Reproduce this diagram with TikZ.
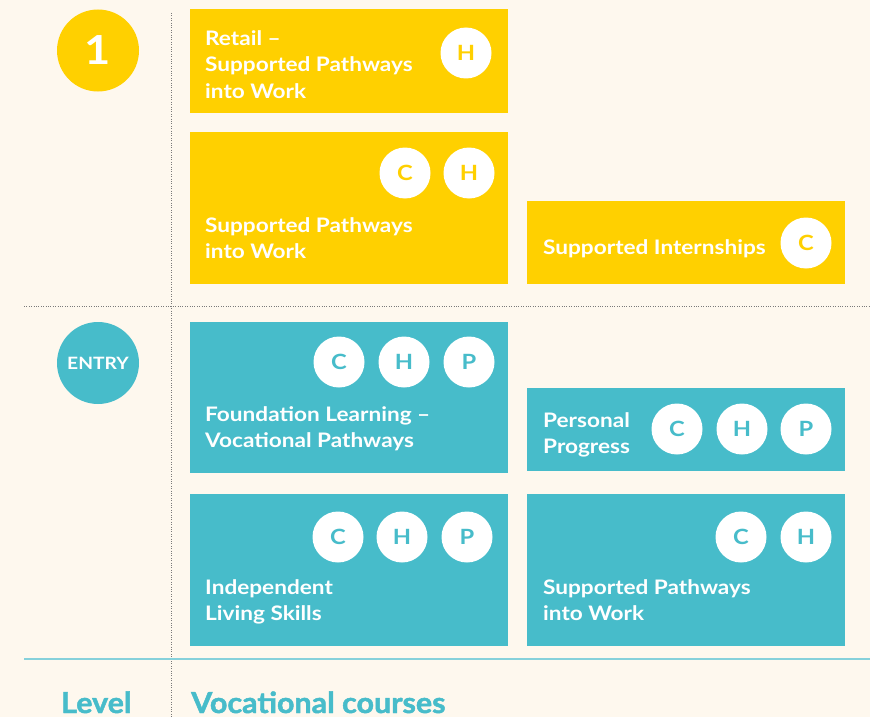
\documentclass[tikz,border=0pt]{standalone}
\usepackage{fontspec}
\setmainfont{Lato}
\newfontfamily\bx{Lato}[FakeStretch=1.13]
\newfontfamily\hd{Lato}[FakeStretch=1.05,BoldFeatures={FakeBold=1.6}]
\definecolor{bg}{HTML}{FEF8EE}
\definecolor{yel}{HTML}{FFD000}
\definecolor{teal1}{HTML}{47BCCA}
\definecolor{lteal}{HTML}{86D1DB}
\definecolor{dotgray}{HTML}{7A7A7A}
\begin{document}
\begin{tikzpicture}[x=1pt,y=-1pt,
 box/.style={draw=none,anchor=north west,inner sep=0,outer sep=0},
 ybox/.style={box,fill=yel},
 tbox/.style={box,fill=teal1},
 badge/.style={circle,fill=white,minimum size=51pt,inner sep=0,font=\bx\bfseries\fontsize{21}{21}\selectfont},
 ybadge/.style={badge,text=yel},
 tbadge/.style={badge,text=teal1},
 lbl/.style={anchor=base west,inner sep=0,text=white,align=left,font=\bx\bfseries\fontsize{20}{26}\selectfont},
 lvl/.style={circle,minimum size=82pt,inner sep=0,text=white},
 head/.style={anchor=base west,inner sep=0,text=teal1,font=\hd\bfseries\fontsize{29}{29}\selectfont},
 grid/.style={dotgray,line width=0.8pt,dash pattern=on 0.8pt off 1.6pt},
]
\fill[bg] (0,0) rectangle (870,717);
\useasboundingbox (0,0) rectangle (870,717);
% grid lines
\coordinate (vtop) at (171,13);
\coordinate (vbot) at (171,717);
\coordinate (hl) at (24,306);
\coordinate (hr) at (870,306);
\coordinate (bl) at (24,659);
\coordinate (br) at (870,659);
\draw[grid] (vtop) -- (vbot);
\draw[grid] (hl) -- (hr);
\draw[lteal,line width=2.5pt] (bl) -- (br);
% level circles
\node[lvl,fill=yel,font=\bx\bfseries\fontsize{40}{40}\selectfont] (one) at (98,50.5) {1};
\node[lvl,fill=teal1,font=\bx\bfseries\fontsize{17}{17}\selectfont] (entry) at (98,363) {ENTRY};
% level 1 boxes
\node[ybox,minimum width=318pt,minimum height=104pt] (A) at (190,9) {};
\node[lbl] (Atxt) at (205,98) {Retail –\\Supported Pathways\\into Work};
\node[ybadge] (AH) at (466,53) {H};
\node[ybox,minimum width=318pt,minimum height=152pt] (B) at (190,132) {};
\node[lbl] (Btxt) at (205,258) {Supported Pathways\\into Work};
\node[ybadge] (BC) at (405,173) {C};
\node[ybadge] (BH) at (469,173) {H};
\node[ybox,minimum width=318pt,minimum height=83pt] (C) at (527,201) {};
\node[lbl] (Ctxt) at (543,254) {Supported Internships};
\node[ybadge] (CC) at (806,243) {C};
% entry boxes
\node[tbox,minimum width=318pt,minimum height=151pt] (D) at (190,322) {};
\node[lbl] (Dtxt) at (205,447) {Foundation Learning –\\Vocational Pathways};
\node[tbadge] (DC) at (339,362) {C};
\node[tbadge] (DH) at (404,362) {H};
\node[tbadge] (DP) at (469,362) {P};
\node[tbox,minimum width=318pt,minimum height=83pt] (E) at (527,388) {};
\node[lbl] (Etxt) at (543,453) {Personal\\Progress};
\node[tbadge] (EC) at (677,429) {C};
\node[tbadge] (EH) at (742,429) {H};
\node[tbadge] (EP) at (806,429) {P};
\node[tbox,minimum width=318pt,minimum height=152pt] (F) at (190,494) {};
\node[lbl] (Ftxt) at (205,620) {Independent\\Living Skills};
\node[tbadge] (FC) at (338,537) {C};
\node[tbadge] (FH) at (402,537) {H};
\node[tbadge] (FP) at (467,537) {P};
\node[tbox,minimum width=318pt,minimum height=152pt] (G) at (527,494) {};
\node[lbl] (Gtxt) at (543,620) {Supported Pathways\\into Work};
\node[tbadge] (GC) at (741,537) {C};
\node[tbadge] (GH) at (806,537) {H};
% headings
\node[head] (level) at (61,713) {Level};
\node[head] (voc) at (191,713) {Vocational courses};
\end{tikzpicture}
\end{document}
